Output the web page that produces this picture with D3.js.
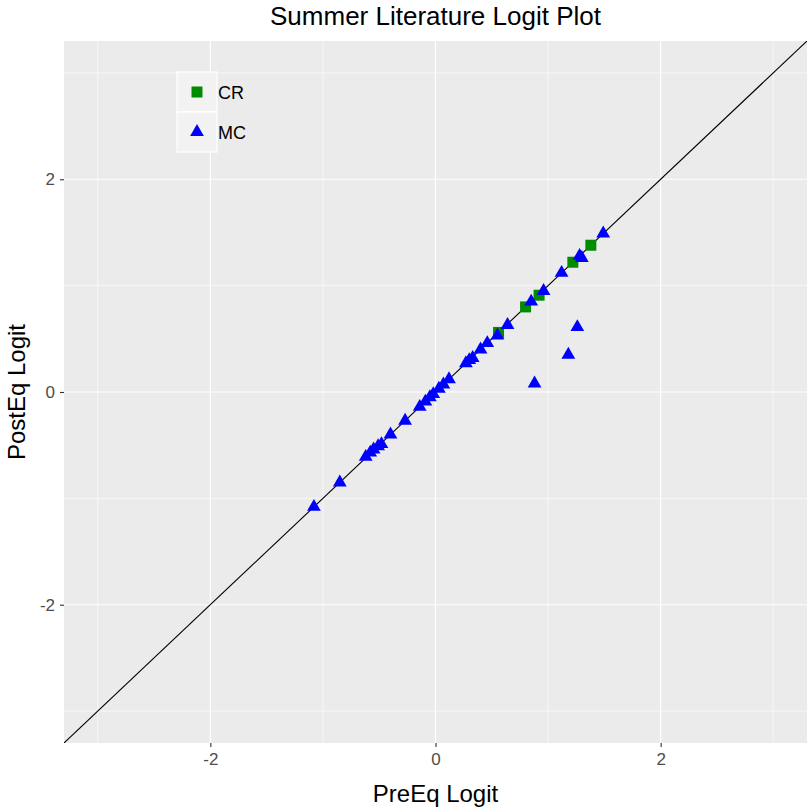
<!DOCTYPE html>
<html>
<head>
<meta charset="utf-8">
<script src="https://cdn.jsdelivr.net/npm/d3@7"></script>
<style>
    body { margin: 0; background: #fff; }
    text { font-family: "Liberation Sans", Arial, sans-serif; }
</style>
</head>
<body>
<div id="logit-plot"></div>
<script>
// CR items (squares)
const crPre  = [0.56, 0.80, 0.92, 1.22, 1.38];
const crPost = [0.56, 0.80, 0.91, 1.22, 1.38];

// MC items (triangles)
const mcPre  = [-1.08, -0.85, -0.62, -0.58, -0.55, -0.51, -0.48, -0.40, -0.27, -0.14, -0.09, -0.05, -0.02,
                0.03, 0.07, 0.12, 0.27, 0.30, 0.33, 0.40, 0.46, 0.55, 0.64, 0.85, 0.96, 1.12, 1.28, 1.30, 1.49,
                0.88, 1.18, 1.26];
const mcPost = [-1.08, -0.85, -0.61, -0.57, -0.54, -0.51, -0.49, -0.40, -0.27, -0.14, -0.09, -0.05, -0.02,
                0.03, 0.07, 0.12, 0.27, 0.30, 0.32, 0.40, 0.46, 0.53, 0.63, 0.85, 0.95, 1.12, 1.28, 1.26, 1.49,
                0.08, 0.35, 0.61];

const majorTicks = [-2, 0, 2];
const minorTicks = [-3, -1, 1, 3];
const groups = ["CR", "MC"];
const limits = [-3.3, 3.3];

function drawChart() {
    const W = 807, H = 807;
    const panel = {left: 64, right: 807, top: 41, bottom: 743};

    const svg = d3.select("#logit-plot")
        .append("svg")
            .attr("width", W)
            .attr("height", H);

    const x = d3.scaleLinear().domain(limits).range([panel.left, panel.right]);
    const y = d3.scaleLinear().domain(limits).range([panel.bottom, panel.top]);

    const color = d3.scaleOrdinal().domain(groups).range(["#008B00", "#0000FF"]);
    const shape = d3.scaleOrdinal().domain(groups).range([d3.symbolSquare, d3.symbolTriangle]);
    const size = d3.scaleOrdinal().domain(groups).range([121, 82]);

    // panel background
    svg.append("rect")
        .attr("x", panel.left)
        .attr("y", panel.top)
        .attr("width", panel.right - panel.left)
        .attr("height", panel.bottom - panel.top)
        .attr("fill", "#EBEBEB");

    const grid = svg.append("g");
    grid.selectAll(".vminor")
        .data(minorTicks)
        .join("line")
            .attr("x1", d => x(d)).attr("x2", d => x(d))
            .attr("y1", panel.top).attr("y2", panel.bottom)
            .attr("stroke", "white").attr("stroke-width", 0.6);
    grid.selectAll(".hminor")
        .data(minorTicks)
        .join("line")
            .attr("class", "hminor")
            .attr("y1", d => y(d)).attr("y2", d => y(d))
            .attr("x1", panel.left).attr("x2", panel.right)
            .attr("stroke", "white").attr("stroke-width", 0.6);
    grid.selectAll(".vmajor")
        .data(majorTicks)
        .join("line")
            .attr("class", "vmajor")
            .attr("x1", d => x(d)).attr("x2", d => x(d))
            .attr("y1", panel.top).attr("y2", panel.bottom)
            .attr("stroke", "white").attr("stroke-width", 1.2);
    grid.selectAll(".hmajor")
        .data(majorTicks)
        .join("line")
            .attr("class", "hmajor")
            .attr("y1", d => y(d)).attr("y2", d => y(d))
            .attr("x1", panel.left).attr("x2", panel.right)
            .attr("stroke", "white").attr("stroke-width", 1.2);

    // axes
    const xAxis = svg.append("g")
        .attr("transform", `translate(0,${panel.bottom})`)
        .call(d3.axisBottom(x).tickValues(majorTicks).tickSize(4).tickPadding(6).tickFormat(d3.format("d")));
    const yAxis = svg.append("g")
        .attr("transform", `translate(${panel.left},0)`)
        .call(d3.axisLeft(y).tickValues(majorTicks).tickSize(4).tickPadding(5).tickFormat(d3.format("d")));

    [xAxis, yAxis].forEach(a => {
        a.select(".domain").remove();
        a.selectAll(".tick line").attr("stroke", "#333333").attr("stroke-width", 1.1);
        a.selectAll(".tick text")
            .attr("fill", "#4D4D4D")
            .style("font-size", "17px")
            .style("font-family", "Liberation Sans, Arial, sans-serif");
    });
    xAxis.selectAll(".tick text").text(d => d < 0 ? "-" + Math.abs(d) : d);
    yAxis.selectAll(".tick text").text(d => d < 0 ? "-" + Math.abs(d) : d);

    // points and diagonal, clipped to panel
    svg.append("clipPath")
        .attr("id", "panel-clip")
        .append("rect")
            .attr("x", panel.left).attr("y", panel.top)
            .attr("width", panel.right - panel.left)
            .attr("height", panel.bottom - panel.top);

    const plot = svg.append("g").attr("clip-path", "url(#panel-clip)");

    plot.append("line")
        .attr("x1", x(limits[0])).attr("y1", y(limits[0]))
        .attr("x2", x(limits[1])).attr("y2", y(limits[1]))
        .attr("stroke", "black")
        .attr("stroke-width", 1.1);

    const points = [
        ...crPre.map((d, i) => ({group: "CR", pre: d, post: crPost[i]})),
        ...mcPre.map((d, i) => ({group: "MC", pre: d, post: mcPost[i]}))
    ];

    plot.selectAll(".pt")
        .data(points)
        .join("path")
            .attr("class", "pt")
            .attr("transform", d => `translate(${x(d.pre)},${y(d.post)})`)
            .attr("d", d => d3.symbol(shape(d.group), size(d.group))())
            .attr("fill", d => color(d.group));

    // legend
    const legend = svg.append("g").attr("transform", "translate(177,72)");
    const keys = legend.selectAll(".key")
        .data(groups)
        .join("g")
            .attr("class", "key")
            .attr("transform", (d, i) => `translate(0,${i * 40})`);
    keys.append("rect")
        .attr("width", 40).attr("height", 40)
        .attr("fill", "#F2F2F2")
        .attr("stroke", "white")
        .attr("stroke-width", 1.2);
    keys.append("path")
        .attr("transform", "translate(20,20)")
        .attr("d", d => d3.symbol(shape(d), size(d))())
        .attr("fill", d => color(d));
    keys.append("text")
        .attr("x", 41)
        .attr("y", 21)
        .attr("dy", "0.36em")
        .style("font-size", "18px")
        .attr("fill", "black")
        .text(d => d);

    // titles
    svg.append("text")
        .attr("x", (panel.left + panel.right) / 2)
        .attr("y", 25)
        .attr("text-anchor", "middle")
        .style("font-size", "26px")
        .text("Summer Literature Logit Plot");

    svg.append("text")
        .attr("x", (panel.left + panel.right) / 2)
        .attr("y", 802)
        .attr("text-anchor", "middle")
        .style("font-size", "24px")
        .text("PreEq Logit");

    svg.append("text")
        .attr("transform", `translate(25,${(panel.top + panel.bottom) / 2}) rotate(-90)`)
        .attr("text-anchor", "middle")
        .style("font-size", "24px")
        .text("PostEq Logit");
}

drawChart();
</script>
</body>
</html>
